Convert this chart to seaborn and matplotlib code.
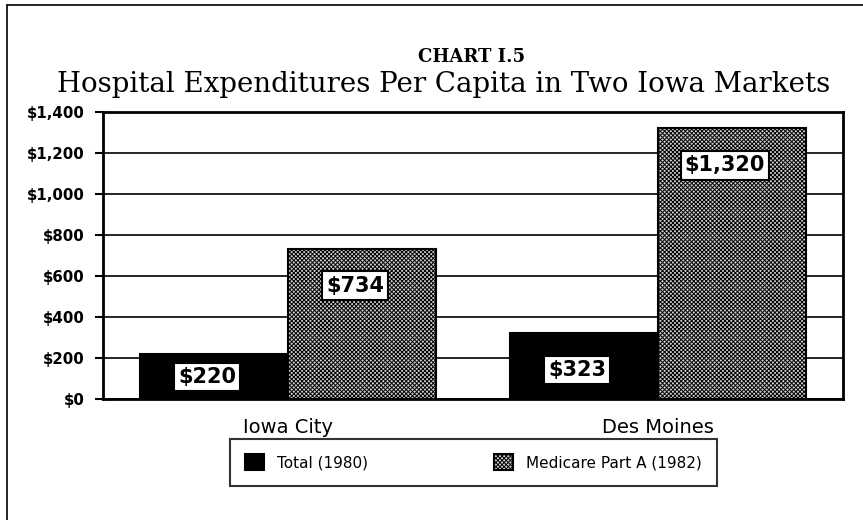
import matplotlib
matplotlib.use("Agg")
import matplotlib.pyplot as plt
from matplotlib.lines import Line2D
from matplotlib.ticker import StrMethodFormatter, MultipleLocator
import seaborn as sns
import pandas as pd

# ---- data ----
cities = ["Iowa City", "Des Moines"]
series = ["Total (1980)", "Medicare Part A (1982)"]
total_1980 = [220, 323]
medicare_1982 = [734, 1320]
y_max = 1400
y_step = 200

rows = []
for c, t, m in zip(cities, total_1980, medicare_1982):
    rows.append({"city": c, "series": series[0], "value": t})
    rows.append({"city": c, "series": series[1], "value": m})
df = pd.DataFrame(rows)

sns.set_style("white")
plt.rcParams["font.family"] = ["DejaVu Sans"]
plt.rcParams["hatch.linewidth"] = 0.7
for k in ["text.color", "axes.labelcolor", "xtick.color", "ytick.color"]:
    plt.rcParams[k] = "black"

W, H = 863, 520
fig = plt.figure(figsize=(W / 100, H / 100), dpi=100)
ax = fig.add_axes([103 / W, 1 - 399 / H, 740 / W, 287 / H])

sns.barplot(data=df, x="city", y="value", hue="series", order=cities,
            hue_order=series, palette=["black", "white"], saturation=1,
            width=0.8, edgecolor="black", linewidth=1.5, ax=ax, legend=False)

# dithered pattern for the Medicare bars
for p in ax.containers[1]:
    p.set_hatch("xxxxxxxx")
    p.set_facecolor("#d0d0d0")
    p.set_edgecolor("black")

ax.set_xlim(-0.5, 1.5)
ax.set_ylim(0, y_max)
ax.yaxis.set_major_locator(MultipleLocator(y_step))
ax.yaxis.set_major_formatter(StrMethodFormatter("${x:,.0f}"))
ax.set_axisbelow(True)
ax.yaxis.grid(True, color="black", linewidth=1.2)
ax.xaxis.grid(False)
for s in ax.spines.values():
    s.set_visible(True)
    s.set_color("black")
    s.set_linewidth(2)
ax.set_xlabel("")
ax.set_ylabel("")
ax.tick_params(axis="y", direction="out", length=6, width=1.5, pad=7,
               labelsize=10.8, left=True, colors="black")
for lab in ax.get_yticklabels():
    lab.set_fontweight("bold")
ax.tick_params(axis="x", length=0, pad=14, labelsize=14, colors="black")

# value labels in boxes
ppu = ax.get_window_extent().height / y_max  # pixels per unit
for cont in ax.containers:
    for p in cont:
        v = p.get_height()
        xc = p.get_x() + p.get_width() / 2
        y = max(v - 37 / ppu, 22 / ppu)
        ax.annotate(f"${v:,.0f}", xy=(xc, y), xytext=(-7, 0),
                    textcoords="offset pixels", ha="center", va="center",
                    fontsize=15, fontweight="bold", color="black",
                    bbox=dict(boxstyle="square,pad=0.2", fc="white",
                              ec="black", lw=1.5))

# legend
leg = fig.legend(handles=[ax.containers[0], ax.containers[1]], labels=series,
                 loc="upper left", bbox_to_anchor=(230 / W, 1 - 439 / H),
                 ncol=2, fontsize=11, frameon=True, fancybox=False,
                 edgecolor="black", handlelength=1.2, handleheight=1.2,
                 handletextpad=0.85, columnspacing=8.3, borderpad=1.0,
                 borderaxespad=0)
leg.get_frame().set_linewidth(1.5)

# titles
fig.text(472 / W, 1 - 62 / H, "CHART I.5", ha="center", va="baseline",
         family="DejaVu Serif", fontweight="bold", fontsize=13)
fig.text(444 / W, 1 - 92 / H,
         "Hospital Expenditures Per Capita in Two Iowa Markets",
         ha="center", va="baseline", family="DejaVu Serif", fontsize=19.9)

# page border (top and left)
fig.add_artist(Line2D([7 / W, 7 / W], [0, 1 - 5 / H], transform=fig.transFigure,
                      color="black", lw=1.2))
fig.add_artist(Line2D([7 / W, 1], [1 - 5 / H, 1 - 5 / H], transform=fig.transFigure,
                      color="black", lw=1.2))

fig.savefig("out.png", dpi=100, facecolor="white")
